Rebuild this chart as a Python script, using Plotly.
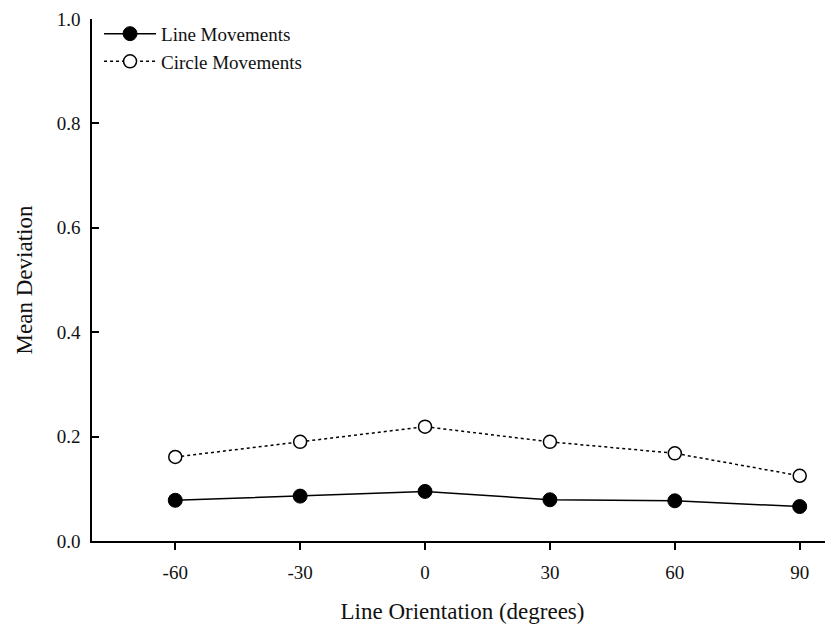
import plotly.graph_objects as go

orientation = [-60, -30, 0, 30, 60, 90]
line_movements = [0.078, 0.086, 0.095, 0.079, 0.077, 0.066]
circle_movements = [0.161, 0.190, 0.219, 0.190, 0.168, 0.125]
y_ticks = [0.0, 0.2, 0.4, 0.6, 0.8, 1.0]
y_tick_labels = ["0.0", "0.2", "0.4", "0.6", "0.8", "1.0"]

FONT = "Liberation Serif, Times New Roman, serif"

fig = go.Figure()
fig.add_trace(go.Scatter(
    x=orientation, y=line_movements, name="Line Movements",
    mode="lines+markers",
    line=dict(color="black", width=1.5),
    marker=dict(symbol="circle", size=14, color="black", line=dict(color="black", width=1)),
))
fig.add_trace(go.Scatter(
    x=orientation, y=circle_movements, name="Circle Movements",
    mode="lines+markers",
    line=dict(color="black", width=1.5, dash="dot"),
    marker=dict(symbol="circle", size=13, color="white", line=dict(color="black", width=1.5)),
))

fig.update_layout(
    width=825, height=629,
    margin=dict(l=84, r=0, t=11, b=96),
    paper_bgcolor="white", plot_bgcolor="white",
    font=dict(family=FONT, color="#111", size=19),
    showlegend=True,
    legend=dict(
        x=0.0095, y=1.008, xanchor="left", yanchor="top",
        bgcolor="rgba(0,0,0,0)", font=dict(size=19, family=FONT),
        itemwidth=52, tracegroupgap=0,
    ),
    xaxis=dict(
        range=[-80, 98], tickvals=orientation,
        ticktext=[str(v) for v in orientation],
        showline=True, linecolor="black", linewidth=1.5,
        ticks="outside", ticklen=7, tickwidth=1.5, tickcolor="black",
        showgrid=False, zeroline=False,
        tickfont=dict(size=19), ticklabelstandoff=6,
        title=dict(text="Line Orientation (degrees)", font=dict(size=23), standoff=21),
    ),
    yaxis=dict(
        range=[0, 1.0001], tickvals=y_ticks, ticktext=y_tick_labels,
        showline=True, linecolor="black", linewidth=1.5,
        ticks="inside", ticklen=7, tickwidth=1.5, tickcolor="black",
        showgrid=False, zeroline=False,
        tickfont=dict(size=19), ticklabelstandoff=6,
        title=dict(text="Mean Deviation", font=dict(size=23), standoff=18),
    ),
)

fig.write_html("out.html")
